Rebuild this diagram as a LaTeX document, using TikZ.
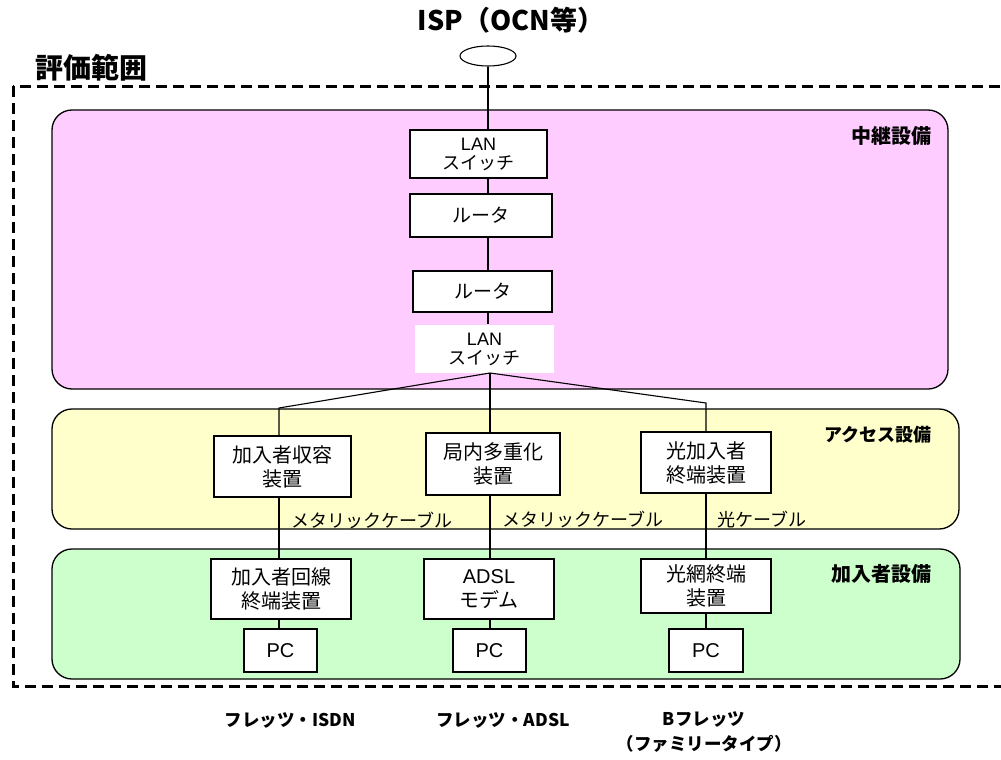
\documentclass[tikz,border=0pt]{standalone}
\usepackage{fontspec}
\setmainfont{Noto Sans CJK JP}
\newfontfamily\lat{Liberation Sans}
\usetikzlibrary{positioning,shapes.geometric}
\definecolor{relaybg}{RGB}{255,204,255}
\definecolor{accessbg}{RGB}{255,255,204}
\definecolor{userbg}{RGB}{204,255,204}

\begin{document}
\begin{tikzpicture}[x=1pt,y=-1pt,
    area/.style={draw,line width=1.3pt,rounded corners=20pt},
    device/.style={draw,line width=1.1pt,fill=white,inner sep=0pt,align=center,
      font=\fontsize{20}{24}\selectfont},
    arealabel/.style={anchor=east,font=\bfseries\fontsize{20}{22}\selectfont},
    cable/.style={anchor=west,font=\fontsize{18}{20}\selectfont},
    service/.style={align=center,font=\bfseries\fontsize{17.5}{25}\selectfont},
    wire/.style={line width=1.1pt}]
    \clip (0,0) rectangle (1001,760);

    % evaluation range
    \draw[line width=3pt,dash pattern=on 11pt off 6pt] (13,86) rectangle (1020,686);
    \node[anchor=west,font=\bfseries\fontsize{28}{30}\selectfont] (range) at (32,68) {評価範囲};

    % the three areas
    \draw[area,fill=relaybg]  (52,110) rectangle (948,389);
    \draw[area,fill=accessbg] (52,409) rectangle (959,529);
    \draw[area,fill=userbg]   (52,549) rectangle (960,679);
    \node[arealabel] (relaylbl)  at (935,136) {中継設備};
    \node[arealabel,font=\bfseries\fontsize{18}{20}\selectfont] (accesslbl) at (935,435) {アクセス設備};
    \node[arealabel] (userlbl)   at (935,574) {加入者設備};

    % ISP
    \node[font=\bfseries\fontsize{27}{29}\selectfont] (ispname) at (511,20) {ISP（OCN等）};
    \node[draw,ellipse,line width=1.1pt,inner sep=0pt,minimum width=56pt,minimum height=20pt] (isp) at (488,56) {};

    % relay equipment
    \node[device,minimum width=137pt,minimum height=48pt,font=\fontsize{18}{19}\selectfont] (sw1) at (478.5,154) {{\lat LAN}\\スイッチ};
    \node[device,minimum width=142pt,minimum height=43pt,font=\fontsize{19}{21}\selectfont] (rt1) at (481,215.5) {ルータ};
    \node[device,minimum width=139pt,minimum height=41pt,font=\fontsize{19}{21}\selectfont] (rt2) at (482.5,291.5) {ルータ};
    \node[device,draw=none,minimum width=139pt,minimum height=48pt,font=\fontsize{18}{19}\selectfont] (sw2) at (484.5,349) {{\lat LAN}\\スイッチ};

    % access equipment
    \node[device,minimum width=137pt,minimum height=61pt] (acc1) at (282.5,466.5) {加入者収容\\装置};
    \node[device,minimum width=134pt,minimum height=62pt] (acc2) at (493,464) {局内多重化\\装置};
    \node[device,minimum width=130pt,minimum height=61pt] (acc3) at (706,462.5) {光加入者\\終端装置};

    % subscriber equipment
    \node[device,minimum width=140pt,minimum height=60pt] (sub1) at (281,589) {加入者回線\\終端装置};
    \node[device,minimum width=130pt,minimum height=60pt] (sub2) at (489,589) {{\lat ADSL}\\モデム};
    \node[device,minimum width=130pt,minimum height=54pt] (sub3) at (706,586) {光網終端\\装置};
    \node[device,minimum width=73pt,minimum height=43pt] (pc1) at (280.5,650.5) {\lat PC};
    \node[device,minimum width=73pt,minimum height=43pt] (pc2) at (489.5,650.5) {\lat PC};
    \node[device,minimum width=74pt,minimum height=43pt] (pc3) at (706,650.5) {\lat PC};

    % cables
    \node[cable] (cab1) at (288,520) {メタリックケーブル};
    \node[cable] (cab2) at (499,519) {メタリックケーブル};
    \node[cable] (cab3) at (714,520) {光ケーブル};

    % services
    \node[service] (isdn) at (290,720) {フレッツ・ISDN};
    \node[service] (adsl) at (503,720) {フレッツ・ADSL};
    \node[service,anchor=north] (bfl) at (704,708) {Bフレッツ\\（ファミリータイプ）};

    % wiring
    \coordinate (trunk) at (488,0);
    \coordinate (fork)  at (490,373);
    \coordinate (jl)    at (279,408);
    \coordinate (jr)    at (706,403);

    \path[wire]
    (isp.south)          edge (isp.south |- sw1.north)
    (sw1.south -| trunk) edge (rt1.north -| trunk)
    (rt1.south -| trunk) edge (rt2.north -| trunk)
    (rt2.south -| trunk) edge (sw2.north -| trunk)
    ;
    \draw[wire] (fork) -- (jl) -- (acc1.north -| jl);
    \draw[wire] (fork) -- (acc2.north -| fork);
    \draw[wire] (fork) -- (jr) -- (acc3.north -| jr);

    \path[wire]
    (acc1.south -| jl)   edge (sub1.north -| jl)
    (acc2.south -| fork) edge (sub2.north -| fork)
    (acc3.south -| jr)   edge (sub3.north -| jr)
    (sub1.south -| jl)   edge (pc1.north -| jl)
    (sub2.south -| fork) edge (pc2.north -| fork)
    (sub3.south -| jr)   edge (pc3.north -| jr)
    ;
\end{tikzpicture}
\end{document}
